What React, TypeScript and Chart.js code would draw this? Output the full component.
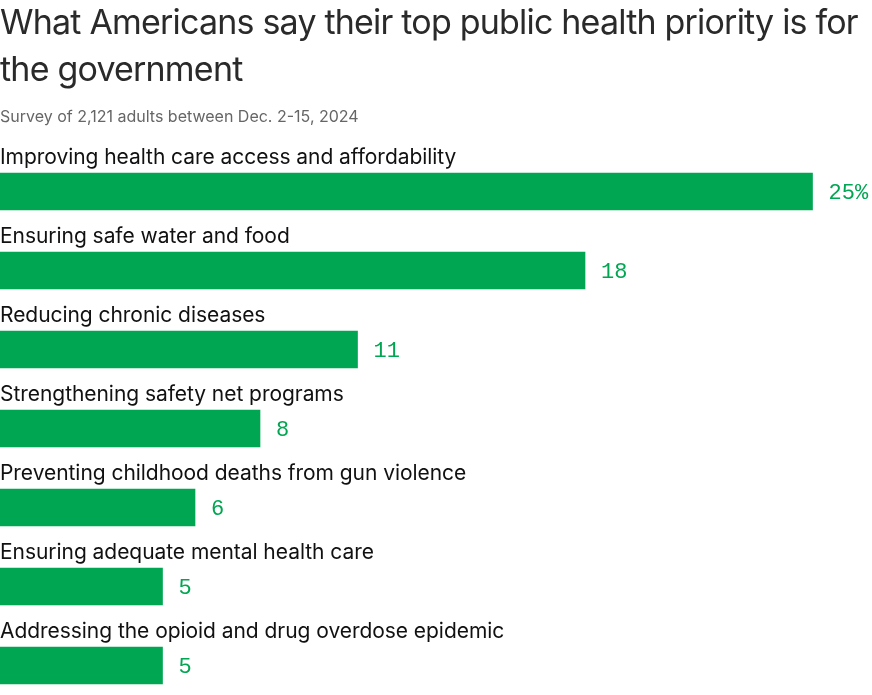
import React, { useEffect, useRef } from "react";
import { Chart, registerables } from "chart.js";

Chart.register(...registerables);

const titleText = "What Americans say their top public health priority is for the government";
const subtitleText = "Survey of 2,121 adults between Dec. 2-15, 2024";

const categories = [
  "Improving health care access and affordability",
  "Ensuring safe water and food",
  "Reducing chronic diseases",
  "Strengthening safety net programs",
  "Preventing childhood deaths from gun violence",
  "Ensuring adequate mental health care",
  "Addressing the opioid and drug overdose epidemic",
];
const values = [25, 18, 11, 8, 6, 5, 5];
const valueLabels = ["25%", "18", "11", "8", "6", "5", "5"];

const GREEN = "#00a651";
const SANS = "Inter, 'Noto Sans', sans-serif";
const MONO = "'Liberation Mono', 'DejaVu Sans Mono', monospace";

const labelPlugin = {
  id: "barLabels",
  afterDatasetsDraw(chart: any) {
    const ctx = chart.ctx;
    const meta = chart.getDatasetMeta(0);
    const left = chart.chartArea.left;
    ctx.save();
    meta.data.forEach((bar: any, i: number) => {
      ctx.textBaseline = "alphabetic";
      ctx.textAlign = "left";
      ctx.font = `400 21px ${SANS}`;
      ctx.fillStyle = "#111";
      (ctx as any).letterSpacing = "-0.05px";
      ctx.fillText(categories[i], left, bar.y - 28);
      ctx.font = `400 22px ${MONO}`;
      ctx.fillStyle = GREEN;
      (ctx as any).letterSpacing = "0px";
      ctx.fillText(valueLabels[i], bar.x + 16, bar.y + 7);
    });
    ctx.restore();
  },
};

export default function App() {
  const canvasRef = useRef<HTMLCanvasElement | null>(null);

  useEffect(() => {
    if (!canvasRef.current) return;
    const chart = new Chart(canvasRef.current, {
      type: "bar",
      data: {
        labels: categories,
        datasets: [
          {
            data: values,
            backgroundColor: GREEN,
            borderWidth: 0,
            barThickness: 37,
            clip: false as any,
          },
        ],
      },
      options: {
        indexAxis: "y",
        animation: false,
        responsive: true,
        maintainAspectRatio: false,
        layout: { padding: { top: 191.5, bottom: 29.5, left: 0, right: 0 } },
        plugins: {
          legend: { display: false },
          tooltip: { enabled: false },
          title: { display: false },
        },
        scales: {
          x: { display: false, min: 0, max: 872 / 32.5, grid: { display: false } },
          y: { display: false, offset: false, grid: { display: false } },
        },
      },
      plugins: [labelPlugin],
    });
    return () => chart.destroy();
  }, []);

  return (
    <div
      style={{
        position: "absolute",
        left: 0,
        top: 0,
        width: 872,
        height: 695,
        overflow: "hidden",
        background: "#fff",
      }}
    >
      <div style={{ position: "absolute", left: 0, top: 0, width: 872, height: 695 }}>
        <canvas ref={canvasRef} />
      </div>
      <div
        style={{
          position: "absolute",
          left: 0,
          top: 0,
          width: 872,
          fontFamily: SANS,
          fontSize: 34,
          lineHeight: "47px",
          letterSpacing: "-0.8px",
          color: "#2a2a2a",
          marginTop: -2,
        }}
      >
        {titleText}
      </div>
      <div
        style={{
          position: "absolute",
          left: 0,
          top: 104,
          fontFamily: SANS,
          fontSize: 16,
          lineHeight: "24px",
          letterSpacing: "0px",
          color: "#666",
        }}
      >
        {subtitleText}
      </div>
    </div>
  );
}
